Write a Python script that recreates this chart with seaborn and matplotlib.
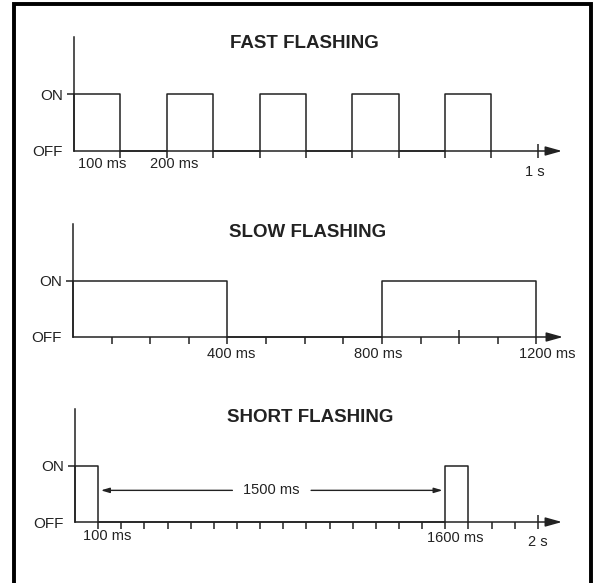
import numpy as np
import pandas as pd
import matplotlib
matplotlib.use("Agg")
import matplotlib.pyplot as plt
from matplotlib.lines import Line2D
import seaborn as sns

# ---------------- data ----------------
fast_title = "FAST FLASHING"
fast_t = [0, 0, 100, 200, 300, 400, 500, 600, 700, 800, 900]
fast_state = [0, 1, 0, 1, 0, 1, 0, 1, 0, 1, 0]
fast_minor = [100, 200, 300, 400, 500, 600, 700, 800, 900]
fast_major = [1000]
fast_labels = ["100 ms", "200 ms", "1 s"]
fast_label_t = [60, 217, 994]

slow_title = "SLOW FLASHING"
slow_t = [0, 0, 400, 800, 1200]
slow_state = [0, 1, 0, 1, 0]
slow_minor = [100, 200, 300, 400, 500, 600, 700, 800, 900, 1100, 1200]
slow_major = [1000]
slow_labels = ["400 ms", "800 ms", "1200 ms"]
slow_label_t = [409, 790, 1229]

short_title = "SHORT FLASHING"
short_t = [0, 0, 100, 1600, 1700]
short_state = [0, 1, 0, 1, 0]
short_minor = list(range(100, 2000, 100))
short_major = [2000]
short_labels = ["100 ms", "1600 ms", "2 s"]
short_label_t = [138, 1641, 1998]
short_gap = [100, 1600]
short_gap_label = "1500 ms"

state_ticks = [0, 1]
state_names = ["OFF", "ON"]

# ---------------- style ----------------
sns.set_style("white")
plt.rcParams["font.family"] = ["Liberation Sans", "DejaVu Sans"]
INK = "#222222"

W, H = 596, 583
fig = plt.figure(figsize=(W / 100, H / 100), dpi=100)


def px(x0, y_off, x_end, y_top):
    return [x0 / W, 1 - y_off / H, (x_end - x0) / W, (y_off - y_top) / H]


panels = [
    dict(rect=px(74, 151, 562, 37), xmax=1052, t=fast_t, s=fast_state,
         minor=fast_minor, major=fast_major, labels=fast_labels,
         label_t=fast_label_t, label_y=[-0.23, -0.23, -0.37],
         title=fast_title, title_x=304, title_y=44),
    dict(rect=px(73, 337, 563, 224), xmax=1269, t=slow_t, s=slow_state,
         minor=slow_minor, major=slow_major, labels=slow_labels,
         label_t=slow_label_t, label_y=[-0.30, -0.30, -0.30],
         title=slow_title, title_x=308, title_y=232),
    dict(rect=px(75, 522, 562, 409), xmax=2104, t=short_t, s=short_state,
         minor=short_minor, major=short_major, labels=short_labels,
         label_t=short_label_t, label_y=[-0.25, -0.28, -0.36],
         title=short_title, title_x=310, title_y=417),
]

axes = []
for p in panels:
    ax = fig.add_axes(p["rect"])
    ax.set_facecolor("none")
    df = pd.DataFrame({"t": p["t"], "state": p["s"]})
    sns.lineplot(data=df, x="t", y="state", ax=ax, estimator=None, sort=False,
                 drawstyle="steps-post", color=INK, lw=1.1, clip_on=False)
    ax.set_xlim(0, p["xmax"])
    ax.set_ylim(0, 2)
    ax.set_xlabel("")
    ax.set_ylabel("")
    for side in ["top", "right", "bottom"]:
        ax.spines[side].set_visible(False)
    ax.spines["left"].set_color(INK)
    ax.spines["left"].set_linewidth(1.1)

    # x axis arrow
    ax.annotate("", xy=(p["xmax"], 0), xytext=(0, 0),
                arrowprops=dict(arrowstyle="-|>,head_length=1.0,head_width=0.28",
                                lw=1.1, color=INK, shrinkA=0, shrinkB=0),
                annotation_clip=False)

    # x ticks
    ax.set_xticks(p["major"])
    ax.set_xticks(p["minor"], minor=True)
    ax.tick_params(axis="x", which="major", direction="inout", length=10,
                   width=1.1, color=INK, bottom=True, top=False,
                   labelbottom=False)
    ax.tick_params(axis="x", which="minor", direction="out", length=5,
                   width=1.1, color=INK, bottom=True, top=False,
                   labelbottom=False)

    # y ticks
    ax.set_yticks(state_ticks)
    ax.set_yticklabels(state_names)
    ax.tick_params(axis="y", which="major", direction="out", length=5,
                   width=1.1, color=INK, labelsize=11, labelcolor=INK,
                   pad=3, left=True, right=False)
    ax.tick_params(axis="y", which="minor", left=False, right=False)
    ax.yaxis.get_major_ticks()[0].tick1line.set_visible(False)

    for lab, lt, ly in zip(p["labels"], p["label_t"], p["label_y"]):
        ax.text(lt, ly, lab, ha="center", va="center", fontsize=10.5,
                color=INK, clip_on=False)

    fig.text(p["title_x"] / W, 1 - p["title_y"] / H, p["title"], ha="center",
             va="center", fontsize=13.5, fontweight="bold", color=INK)
    axes.append(ax)

# dimension arrows for short flashing
ax = axes[2]
y_dim = 0.56
mid = (short_gap[0] + short_gap[1]) / 2
ax.text(mid, y_dim, short_gap_label, ha="center", va="center",
        fontsize=10.5, color=INK)
half_gap = 170
dim_style = "-|>,head_length=0.5,head_width=0.15"
ax.annotate("", xy=(short_gap[0], y_dim), xytext=(mid - half_gap, y_dim),
            arrowprops=dict(arrowstyle=dim_style, lw=1.0, color=INK,
                            shrinkA=0, shrinkB=2))
ax.annotate("", xy=(short_gap[1], y_dim), xytext=(mid + half_gap, y_dim),
            arrowprops=dict(arrowstyle=dim_style, lw=1.0, color=INK,
                            shrinkA=0, shrinkB=2))

# outer frame (open at the bottom)
fig.add_artist(Line2D([13.5 / W, 13.5 / W, 590.5 / W, 590.5 / W],
                      [0, 1 - 3.5 / H, 1 - 3.5 / H, 0],
                      transform=fig.transFigure, lw=2.8, color="black",
                      solid_joinstyle="miter"))

fig.savefig("out.png", dpi=100)
